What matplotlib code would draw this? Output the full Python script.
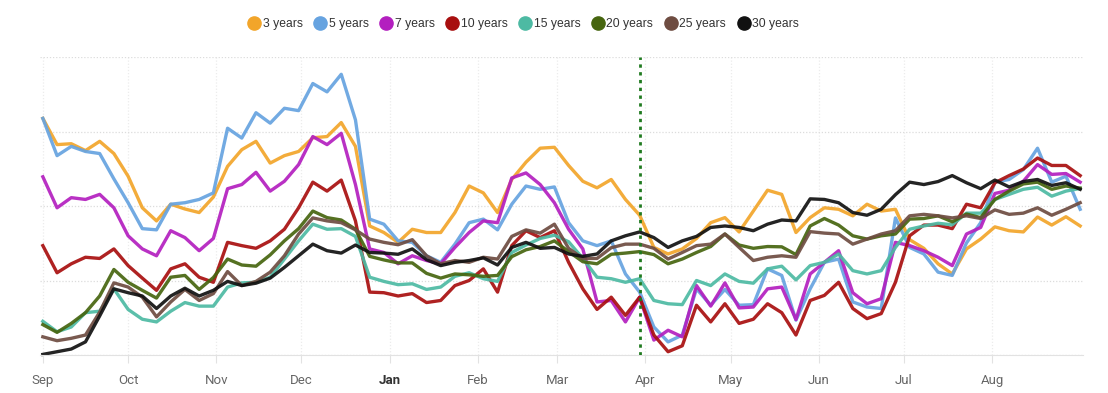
import matplotlib
matplotlib.use("Agg")
import matplotlib.pyplot as plt
import matplotlib.dates as mdates
from matplotlib.lines import Line2D
import pandas as pd

# ── DATA (relative level, gridlines at 0/25/50/75/100) ──────────────────────
dates = pd.date_range("2022-09-01", periods=74, freq="5D")
month_ticks = pd.date_range("2022-09-01", "2023-08-01", freq="MS")

labels = ["3 years", "5 years", "7 years", "10 years",
          "15 years", "20 years", "25 years", "30 years"]
colors = ["#f2a52a", "#66a3e0", "#b31fbf", "#a80f0f",
          "#4dbaa3", "#46650f", "#6e4c41", "#111111"]

y3 = [79.4, 70.6, 70.9, 68.6, 71.7, 67.6, 60, 49.4, 45, 50.6, 49, 47.8, 53,
      63.3, 68.9, 71.7, 64.4, 66.9, 68.3, 72.9, 73.3, 78, 70, 43.3, 41.1,
      37.8, 42.2, 41.1, 41.1, 47.8, 56.7, 54.4, 47.8, 58.9, 64.7, 69.4, 69.7,
      63.6, 58.3, 56.1, 58.9, 52.2, 46.9, 36.1, 33.9, 35.6, 39.1, 44.4,
      46.1, 41.3, 48.3, 55.3, 53.9, 41.1, 46.1, 49.4, 48.9, 46.7, 50.6, 48.3,
      48.9, 38.7, 35.8, 30.6, 27.2, 35.6, 38.9, 43, 41.7, 41.3, 46.3, 43.6, 46.4, 43.3]
y5 = [79.4, 66.9, 70, 68.3, 67.6, 59.1, 51.1, 42.4, 42, 50.6, 51.1, 52.2, 54.4,
      76.1, 72.8, 81.3, 77.8, 82.8, 82, 91.1, 88.3, 94.2, 78.9, 45.6, 43.9,
      38.3, 37.8, 33.3, 31.1, 37.2, 44.4, 45.6, 42, 50.6, 56.7, 55.6, 56.4,
      44.4, 38.3, 36.7, 38.3, 27.2, 21.1, 9.4, 4.4, 6.7, 22.2, 16.7,
      22, 16.7, 16.9, 28.9, 26.7, 11.7, 22.2, 31.1, 32.2, 17.8, 16.1, 15.6,
      46, 36.1, 33.9, 27.8, 26.7, 37.6, 44.4, 58, 58.9, 62.2, 69.4, 58, 60, 48.9]
y7 = [59.8, 49.4, 52.8, 52.2, 53.9, 49.4, 40, 35.6, 33.3, 41.7, 39.4, 35, 39.1,
      55.8, 57.2, 61.3, 55, 58.3, 63.9, 73.3, 70.6, 74.4, 57.2, 35.6, 34.4,
      30.6, 33.3, 31.7, 30.6, 36.1, 41.1, 45, 44.4, 59.4, 61.1, 57.2, 51.1,
      42.2, 35.6, 17.8, 18.3, 11.1, 19.4, 5, 8.3, 6.1, 23.3, 16.4,
      24.2, 15.8, 16.1, 22.2, 22.8, 11.9, 27.2, 31.1, 35, 20.9, 17.2, 18.9,
      37.8, 36.7, 35, 32.8, 30, 40.6, 42.8, 54.2, 55.3, 58.3, 63.9, 60.6, 60.9, 58]
y10 = [36.7, 27.6, 30.6, 32.8, 32.4, 35.6, 30, 25.8, 21.7, 28.9, 30.6, 26.1, 24.4,
       37.8, 36.7, 35.8, 38.3, 42.2, 49.4, 58, 55, 58.7, 45, 21.1, 20.9,
       19.8, 20.6, 17.6, 18.3, 23.3, 25, 28.9, 21.1, 36.7, 41.7, 39.4, 41.7,
       31.1, 22.2, 15.3, 19.4, 13.3, 19.4, 6.7, 1.1, 3.1, 16.7, 11.1,
       17.2, 10.6, 12, 17.2, 14.2, 6.7, 18.3, 20, 24.4, 15.6, 12.2, 13.9,
       24.4, 40, 43.6, 43.6, 42.4, 50.6, 49.4, 57.8, 60.2, 62.4, 66.1, 63.6, 63.6, 60.2]
y15 = [11.3, 7.8, 9.4, 14.2, 14.7, 22.2, 15.3, 12, 11.1, 14.7, 17.6, 16.4, 16.4,
       22.8, 24.2, 24.4, 26.1, 32.2, 38.3, 43.9, 42.2, 42.4, 39.8, 26.1, 24.7,
       23.6, 23.9, 22, 22.8, 26.4, 27.6, 25.6, 24.7, 34.4, 36.9, 39.1, 40.2,
       38, 32.4, 26.1, 25.6, 24.4, 25.6, 18.3, 17.2, 16.9, 25, 23.3,
       27.2, 24.7, 24.1, 28.9, 29.8, 25.2, 30, 31.1, 33.9, 28.3, 27.2, 28.3,
       36.1, 42.2, 43.3, 44.2, 43.7, 47.6, 47.6, 52.2, 53.9, 55.6, 56.3, 53.3, 55, 55.9]
y20 = [10.2, 7.6, 10.6, 14.2, 19.8, 28.7, 24.4, 21.7, 19.1, 26.1, 26.7, 22, 26,
       32.2, 30.2, 29.8, 33.6, 38.3, 42.4, 48.3, 46.1, 45.3, 42.2, 33.1, 31.9,
       30.9, 30.9, 27.4, 25.8, 27.2, 26.9, 26.4, 26.7, 33, 35.3, 36.4, 38.3,
       34.7, 31.3, 30.6, 33.8, 34.2, 34.7, 33.7, 30.6, 32.2, 34.4, 36.4,
       40.6, 36.9, 35.8, 36.4, 36.3, 33.7, 43.3, 45.8, 43.6, 40, 38.9, 40,
       40.6, 45.6, 45.8, 46.7, 44.7, 47.3, 46.1, 52.2, 55, 57.4, 58, 55.6, 56.7, 56]
y25 = [6.1, 4.8, 5.6, 6.7, 14.4, 24.2, 22.8, 19.4, 12.8, 17.8, 22, 18.3, 20.6,
       28, 23.3, 24.7, 27.8, 33.3, 40.6, 46, 45, 44.4, 42, 38.9, 37.8,
       37, 38.7, 33.3, 30.6, 31.7, 31.1, 32.8, 32.2, 39.8, 42, 40.9, 43.9,
       35.8, 32.4, 32.4, 36, 37.2, 37.2, 35.8, 32.2, 34.4, 36.7, 37.2,
       40.6, 36.1, 31.7, 32.8, 33.3, 32.8, 41.4, 40.9, 40.6, 37.2, 38.9, 40.6,
       41.7, 46.7, 47.2, 46.7, 46, 46.7, 45.8, 48.7, 47.2, 47.6, 49.4, 46.9, 48.9, 51.1]
y30 = [0.2, 1.1, 2, 4.4, 13.1, 22.2, 20.9, 19.8, 15.6, 19.8, 22.4, 19.8, 21.7,
       24.7, 23.3, 24.1, 25.8, 29.4, 33.3, 37.2, 35, 34.2, 36.9, 34.4, 34.2,
       33.8, 35.6, 32, 30, 31.1, 31.7, 32.6, 30.2, 36.1, 37.8, 35.8, 36.1,
       33.9, 33.1, 33.9, 38.3, 40, 41.3, 39.4, 36.1, 38.3, 39.8, 42.8,
       43.3, 42.8, 41.7, 43.9, 45.3, 45, 52.4, 52.2, 51.1, 47.8, 46.9, 48.9,
       53.8, 58, 57.2, 58.2, 60.2, 57.8, 55.8, 58.7, 56.4, 58.2, 58.9, 56.9, 57.8, 55.6]

series = [y3, y5, y7, y10, y15, y20, y25, y30]
marker_date = pd.Timestamp("2023-03-30")

# ── FIGURE ───────────────────────────────────────────────────────────────────
W, H = 1108, 393
fig = plt.figure(figsize=(W / 100, H / 100), dpi=100)
ax = fig.add_axes([40 / W, 1 - 355 / H, 1043 / W, 298 / H])

for vals, col, lab in zip(series, colors, labels):
    ax.plot(dates, vals, color=col, lw=2.4, alpha=0.92, label=lab,
            solid_joinstyle="round", clip_on=False)

ax.axvline(marker_date, color="#1f7a1f", lw=2, ls=(0, (1.2, 1.6)), zorder=5)

ax.set_ylim(0, 100)
ax.set_xlim(pd.Timestamp("2022-08-31"), pd.Timestamp("2023-09-02"))
ax.set_yticks([0, 25, 50, 75, 100])
ax.set_yticklabels([])
ax.tick_params(axis="y", length=0)

ax.set_xticks(month_ticks)
ax.xaxis.set_major_formatter(mdates.DateFormatter("%b"))
ax.tick_params(axis="x", length=6, color="#e2e2e2", pad=8,
               labelsize=9.5, labelcolor="#666666")
for t in ax.get_xticklabels():
    t.set_family("Roboto")
    if t.get_text() == "Jan":
        t.set_fontweight("bold")
        t.set_color("#333333")

ax.grid(axis="y", color="#dcdcdc", ls=(0, (1, 1.5)), lw=0.9)
ax.grid(axis="x", color="#ececec", ls=(0, (1, 1.5)), lw=0.9)
for s in ["top", "right", "left"]:
    ax.spines[s].set_visible(False)
ax.spines["bottom"].set_color("#e2e2e2")
ax.set_axisbelow(True)

handles = [Line2D([], [], ls="", marker="o", ms=9.5, color=c, mec=c)
           for c in colors]
fig.legend(handles, labels, loc="center", bbox_to_anchor=(524 / W, 1 - 24 / H),
           ncol=8, frameon=False, handletextpad=0.25, columnspacing=1.0,
           handlelength=0.9, prop={"family": "Liberation Sans", "size": 8.7},
           labelcolor="#333333")

fig.savefig("out.png", dpi=100)
